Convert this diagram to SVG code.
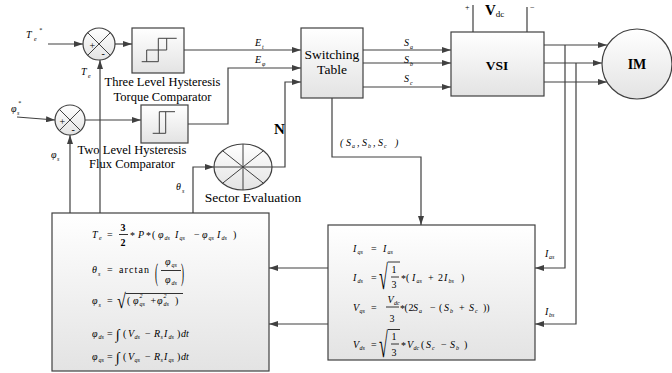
<svg xmlns="http://www.w3.org/2000/svg" width="672" height="373" viewBox="0 0 672 373">
<defs>
<linearGradient id="g" x1="0" y1="0" x2="0" y2="1"><stop offset="0" stop-color="#ffffff"/><stop offset="1" stop-color="#e3e3e3"/></linearGradient>
<marker id="ah" markerUnits="userSpaceOnUse" markerWidth="9" markerHeight="6" viewBox="0 0 9 6" refX="9" refY="3" orient="auto"><path d="M0,0 L9,3 L0,6 z" fill="#404040"/></marker>
</defs>
<style>
.box{fill:url(#g);stroke:#404040;stroke-width:1.2}
.ln{fill:none;stroke:#404040;stroke-width:1.2}
.gl{fill:none;stroke:#404040;stroke-width:1}
.arr{fill:none;stroke:#404040;stroke-width:1.2;marker-end:url(#ah)}
.lbl{font-family:"Liberation Serif","Times New Roman",serif;font-size:12.5px;fill:#000}
.big{font-family:"Liberation Serif","Times New Roman",serif;font-size:14px;font-weight:bold;fill:#000}
.m{font-family:"Liberation Serif","Times New Roman",serif;font-style:italic;font-size:10px;fill:#000}
.s{font-family:"Liberation Serif","Times New Roman",serif;font-style:italic;font-size:6px;fill:#000}
.u{font-family:"Liberation Serif","Times New Roman",serif;font-size:10px;fill:#000}
.b{font-family:"Liberation Serif","Times New Roman",serif;font-size:10px;font-weight:bold;fill:#000}
.fb{fill:none;stroke:#000;stroke-width:0.8}
</style>

<g id="connectors">
<path class="arr" d="M48,44 H83"/>
<path class="arr" d="M115,44 H132"/>
<path class="arr" d="M184,50 H301"/>
<path class="arr" d="M17,117 L55,120"/>
<path class="arr" d="M85,120 H141"/>
<path class="arr" d="M188,124 H228 V68 H301"/>
<path class="arr" d="M272,167 H285 V82 H301"/>
<path class="arr" d="M363,50 H451"/>
<path class="arr" d="M363,63 H451"/>
<path class="arr" d="M363,87 H451"/>
<path class="arr" d="M544,45 H607"/>
<path class="arr" d="M544,63 H602"/>
<path class="arr" d="M544,82 H607"/>
<path class="arr" d="M565,45 V268 H535"/>
<path class="arr" d="M576,63 V324 H535"/>
<path class="arr" d="M332,98 V157 H421 V225"/>
<path class="arr" d="M328,268 H269"/>
<path class="arr" d="M328,324 H269"/>
<path class="arr" d="M100,213 V60"/>
<path class="arr" d="M70,213 V135"/>
<path class="arr" d="M193,213 V167 H214"/>
<text class="m" x="26" y="38">T<tspan class="s" x="34" y="41">e</tspan><tspan class="s" x="39" y="32">*</tspan></text>
<text class="m" x="81" y="75">T<tspan class="s" x="88" y="78">e</tspan></text>
<text class="m" x="11" y="112">φ<tspan class="s" x="17" y="115">s</tspan><tspan class="s" x="18" y="105">*</tspan></text>
<text class="m" x="51" y="158">φ<tspan class="s" x="57" y="161">s</tspan></text>
<text class="m" x="176" y="190">θ<tspan class="s" x="182" y="193">s</tspan></text>
<text class="m" x="255" y="46">E<tspan class="s" x="262" y="49">t</tspan></text>
<text class="m" x="255" y="63">E<tspan class="s" x="262" y="66">φ</tspan></text>
<text class="m" x="404" y="46">S<tspan class="s" x="410" y="49">a</tspan></text>
<text class="m" x="404" y="63">S<tspan class="s" x="410" y="66">b</tspan></text>
<text class="m" x="404" y="82">S<tspan class="s" x="410" y="85">c</tspan></text>
<text class="m" x="340" y="146"><tspan class="u">(</tspan><tspan x="346">S</tspan><tspan class="s" x="352" y="148">a</tspan><tspan class="u" x="357" y="146">,</tspan><tspan x="362" y="146">S</tspan><tspan class="s" x="368" y="148">b</tspan><tspan class="u" x="373" y="146">,</tspan><tspan x="378" y="146">S</tspan><tspan class="s" x="384" y="148">c</tspan><tspan class="u" x="395" y="146">)</tspan></text>
<text class="m" x="545" y="257">I<tspan class="s" x="549" y="259">as</tspan></text>
<text class="m" x="545" y="315">I<tspan class="s" x="549" y="317">bs</tspan></text>
<text class="big" x="274" y="134" style="font-size:15px">N</text>
</g>

<g id="sum_torque">
<circle cx="99" cy="44" r="16" class="box"/>
<path class="gl" d="M87.7,32.7 L110.3,55.3 M110.3,32.7 L87.7,55.3"/>
<text class="u" x="89.5" y="48.5">+</text>
<text class="u" x="101.5" y="56.5">-</text>
</g>

<g id="sum_flux">
<circle cx="70" cy="120" r="15" class="box"/>
<path class="gl" d="M59.4,109.4 L80.6,130.6 M80.6,109.4 L59.4,130.6"/>
<text class="u" x="59.5" y="125">+</text>
<text class="u" x="71.5" y="132.5">-</text>
</g>

<g id="torque_comparator">
<rect x="132" y="28" width="52" height="45" class="box"/>
<path class="gl" d="M141.7,61.7 H158.3 M146.7,61.7 V50 H166.7 V38.3 M158.3,61.7 V38.3 H176.7"/>
<text class="lbl" x="162.5" y="86" text-anchor="middle">Three Level Hysteresis</text>
<text class="lbl" x="162.5" y="101" text-anchor="middle">Torque Comparator</text>
</g>

<g id="flux_comparator">
<rect x="141" y="105" width="47" height="38" class="box"/>
<path class="gl" d="M152.7,133.3 H165.7 M159.3,133.3 V111.7 H175 M165.7,133.3 V111.7"/>
<text class="lbl" x="132" y="154" text-anchor="middle">Two Level Hysteresis</text>
<text class="lbl" x="132" y="168" text-anchor="middle">Flux Comparator</text>
</g>

<g id="sector_evaluation">
<ellipse cx="243" cy="167" rx="29" ry="23" class="box"/>
<path class="gl" d="M243,144 V190 M214,167 H272 M222.5,150.7 L263.5,183.3 M263.5,150.7 L222.5,183.3"/>
<text class="lbl" x="253" y="202" text-anchor="middle" style="font-size:13.5px">Sector Evaluation</text>
</g>

<g id="switching_table">
<rect x="301" y="28" width="62" height="70" class="box"/>
<text class="lbl" x="332" y="59" text-anchor="middle" style="font-size:13.5px">Switching</text>
<text class="lbl" x="332" y="74" text-anchor="middle" style="font-size:13.5px">Table</text>
</g>

<g id="vsi">
<rect x="451" y="32" width="93" height="64" class="box"/>
<path class="ln" d="M473,5 V32 M527,7 V32"/>
<text class="u" x="465" y="10" style="font-size:8px">+</text>
<text class="u" x="530" y="10" style="font-size:8px">−</text>
<text class="big" x="485" y="15" style="font-size:15px">V<tspan style="font-size:9px;font-weight:normal" dy="2">dc</tspan></text>
<text class="big" x="497" y="69.5" text-anchor="middle" style="font-size:13.5px">VSI</text>
</g>

<g id="im">
<circle cx="637" cy="64" r="35" class="box"/>
<text class="big" x="637" y="69" text-anchor="middle">IM</text>
</g>

<g id="flux_torque_estimator">
<rect x="52" y="213" width="217" height="158" class="box"/>
<text class="m" x="92" y="238">T<tspan class="s" x="99" y="240">e</tspan></text>
<text class="u" x="107" y="238">=</text>
<text class="b" x="120.5" y="231">3</text>
<line class="fb" x1="119" y1="234.5" x2="128" y2="234.5"/>
<text class="b" x="120.5" y="246">2</text>
<text class="u" x="130" y="239">*</text>
<text class="m" x="138" y="238">P</text>
<text class="u" x="146" y="239">*</text>
<text class="u" x="152" y="238">(</text>
<text class="m" x="158" y="238">φ<tspan class="s" x="164.5" y="240">ds</tspan></text>
<text class="m" x="175" y="238">I<tspan class="s" x="179.5" y="240">qs</tspan></text>
<text class="u" x="194" y="238">−</text>
<text class="m" x="202" y="238">φ<tspan class="s" x="208.5" y="240">qs</tspan></text>
<text class="m" x="217" y="238">I<tspan class="s" x="221.5" y="240">ds</tspan></text>
<text class="u" x="233" y="238">)</text>
<text class="m" x="92" y="273">θ<tspan class="s" x="98" y="276">s</tspan></text>
<text class="u" x="107" y="273">=</text>
<text class="u" x="119" y="273" letter-spacing="1.1">arctan</text>
<text class="u" transform="translate(155,281) scale(0.9,2.6)">(</text>
<text class="m" x="165" y="265">φ<tspan class="s" x="171.5" y="267">qs</tspan></text>
<line class="fb" x1="161" y1="270.5" x2="181" y2="270.5"/>
<text class="m" x="165" y="283">φ<tspan class="s" x="171.5" y="285">ds</tspan></text>
<text class="u" transform="translate(181,281) scale(0.9,2.6)">)</text>
<text class="m" x="92" y="304">φ<tspan class="s" x="98.5" y="307">s</tspan></text>
<text class="u" x="107" y="304">=</text>
<text class="u" transform="translate(117,308) scale(1,1.3)" style="font-size:16px">√</text>
<line class="fb" x1="125.5" y1="293.5" x2="183" y2="293.5"/>
<text class="u" x="127" y="304">(</text>
<text class="m" x="133" y="304">φ<tspan class="s" x="139.5" y="298">2</tspan><tspan class="s" x="139.5" y="306">qs</tspan></text>
<text class="u" x="150.5" y="304">+</text>
<text class="m" x="157" y="304">φ<tspan class="s" x="163.5" y="298">2</tspan><tspan class="s" x="163.5" y="306">ds</tspan></text>
<text class="u" x="175" y="304">)</text>
<text class="m" x="92" y="337">φ<tspan class="s" x="98.5" y="339">ds</tspan></text>
<text class="u" x="107" y="337">=</text>
<text class="u" x="116" y="339" style="font-size:14px">∫</text>
<text class="u" x="123" y="337">(</text>
<text class="m" x="128" y="337">V<tspan class="s" x="134.5" y="339">ds</tspan></text>
<text class="u" x="145" y="337">−</text>
<text class="m" x="154" y="337">R<tspan class="s" x="160.5" y="339">s</tspan></text>
<text class="m" x="164" y="337">I<tspan class="s" x="168.5" y="339">ds</tspan></text>
<text class="u" x="177" y="337">)</text>
<text class="m" x="181" y="337">dt</text>
<text class="m" x="92" y="360">φ<tspan class="s" x="98.5" y="362">qs</tspan></text>
<text class="u" x="107" y="360">=</text>
<text class="u" x="116" y="362" style="font-size:14px">∫</text>
<text class="u" x="123" y="360">(</text>
<text class="m" x="128" y="360">V<tspan class="s" x="134.5" y="362">qs</tspan></text>
<text class="u" x="145" y="360">−</text>
<text class="m" x="154" y="360">R<tspan class="s" x="160.5" y="362">s</tspan></text>
<text class="m" x="164" y="360">I<tspan class="s" x="168.5" y="362">qs</tspan></text>
<text class="u" x="177" y="360">)</text>
<text class="m" x="181" y="360">dt</text>
</g>

<g id="transformation_block">
<rect x="328" y="225" width="207" height="135" class="box"/>
<text class="m" x="353" y="252">I<tspan class="s" x="357.5" y="254">qs</tspan></text>
<text class="u" x="371" y="252">=</text>
<text class="m" x="383" y="252">I<tspan class="s" x="387.5" y="254">as</tspan></text>
<text class="m" x="353" y="281">I<tspan class="s" x="357.5" y="283">ds</tspan></text>
<text class="u" x="371" y="281">=</text>
<text class="u" transform="translate(379,288.5) scale(1,2.15)" style="font-size:16px">√</text>
<line class="fb" x1="388" y1="262" x2="400" y2="262"/>
<text class="u" x="391.5" y="273">1</text>
<line class="fb" x1="391" y1="277" x2="399" y2="277"/>
<text class="u" x="391.5" y="288">3</text>
<text class="u" x="401" y="282">*</text>
<text class="u" x="406" y="281">(</text>
<text class="m" x="412" y="281">I<tspan class="s" x="416.5" y="283">as</tspan></text>
<text class="u" x="428" y="281">+</text>
<text class="u" x="438" y="281">2</text>
<text class="m" x="444" y="281">I<tspan class="s" x="448.5" y="283">bs</tspan></text>
<text class="u" x="461" y="281">)</text>
<text class="m" x="353" y="311">V<tspan class="s" x="359.5" y="313">qs</tspan></text>
<text class="u" x="371" y="311">=</text>
<text class="m" x="387.5" y="303">V<tspan class="s" x="394" y="305">dc</tspan></text>
<line class="fb" x1="386" y1="307" x2="399" y2="307"/>
<text class="u" x="389.5" y="322">3</text>
<text class="u" x="400" y="312">*</text>
<text class="u" x="404.5" y="311">(</text>
<text class="u" x="408.5" y="311">2</text>
<text class="m" x="413" y="311">S<tspan class="s" x="419" y="313">a</tspan></text>
<text class="u" x="430" y="311">−</text>
<text class="u" x="439" y="311">(</text>
<text class="m" x="444" y="311">S<tspan class="s" x="450" y="313">b</tspan></text>
<text class="u" x="459" y="311">+</text>
<text class="m" x="469" y="311">S<tspan class="s" x="475" y="313">c</tspan></text>
<text class="u" x="483" y="311">))</text>
<text class="m" x="353" y="348">V<tspan class="s" x="359.5" y="350">ds</tspan></text>
<text class="u" x="371" y="348">=</text>
<text class="u" transform="translate(379,357) scale(1,2.2)" style="font-size:16px">√</text>
<line class="fb" x1="388" y1="329.5" x2="400" y2="329.5"/>
<text class="u" x="391.5" y="340">1</text>
<line class="fb" x1="391" y1="344" x2="399" y2="344"/>
<text class="u" x="391.5" y="356">3</text>
<text class="u" x="401" y="349">*</text>
<text class="m" x="407" y="348">V<tspan class="s" x="413.5" y="350">dc</tspan></text>
<text class="u" x="421" y="348">(</text>
<text class="m" x="426" y="348">S<tspan class="s" x="432" y="350">c</tspan></text>
<text class="u" x="441" y="348">−</text>
<text class="m" x="450" y="348">S<tspan class="s" x="456" y="350">b</tspan></text>
<text class="u" x="464" y="348">)</text>
</g>
</svg>
